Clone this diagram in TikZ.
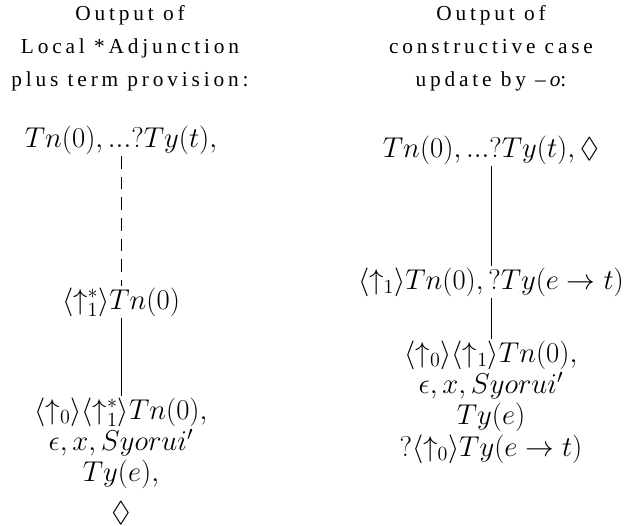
\RequirePackage{fix-cm}
\documentclass[tikz,border=0pt]{standalone}
\usepackage{fontspec}
\usepackage{amsmath, amssymb}
\newfontfamily\headfont[LetterSpace=18]{Liberation Serif}
\usetikzlibrary{positioning}

\begin{document}
\begin{tikzpicture}[
    x=0.75pt, y=-0.75pt,
    head/.style={align=center, inner sep=0pt, font=\headfont\fontsize{16}{24.75}\selectfont},
    tnode/.style={align=center, inner sep=1pt, font=\fontsize{21.5}{22.5}\selectfont},
    edge/.style={line width=0.6pt, color=black},
    dom/.style={edge, dash pattern=on 9.5pt off 6pt}
]
    \useasboundingbox (0,0) rectangle (627,525);

    % headings
    \node[head] (lhead) at (130,48) {Output of\\Local *Adjunction\\plus term provision:};
    \node[head] (rhead) at (491,48) {Output of\\constructive case\\update by {\itshape \char"2013o}:};

    % left tree
    \node[tnode] (ltop) at (121,140) {$Tn(0),...?Ty(t),$};
    \node[tnode] (lmid) at (121,302) {$\langle\uparrow_1^*\rangle Tn(0)$};
    \node[tnode, anchor=north] (lbot) at (121,396) {$\langle\uparrow_0\rangle\langle\uparrow_1^*\rangle Tn(0),$\\[1pt]$\epsilon, x, Syorui'$\\[1pt]$Ty(e),$\\[7pt]$\Diamond$};

    \draw[dom] (ltop.south) -- (lmid.north);
    \draw[edge] (lmid.south) -- (lbot.north);

    % right tree
    \node[tnode] (rtop) at (491,150) {$Tn(0),...?Ty(t),\Diamond$};
    \node[tnode] (rmid) at (491,282) {$\langle\uparrow_1\rangle Tn(0),?Ty(e\rightarrow t)$};
    \node[tnode, anchor=north] (rbot) at (491,339) {$\langle\uparrow_0\rangle\langle\uparrow_1\rangle Tn(0),$\\[1pt]$\epsilon, x, Syorui'$\\[1pt]$Ty(e)$\\[1pt]$?\langle\uparrow_0\rangle Ty(e\rightarrow t)$};

    \draw[edge] (rtop.south) -- (rmid.north);
    \draw[edge] (rmid.south) -- (rbot.north);
\end{tikzpicture}
\end{document}
